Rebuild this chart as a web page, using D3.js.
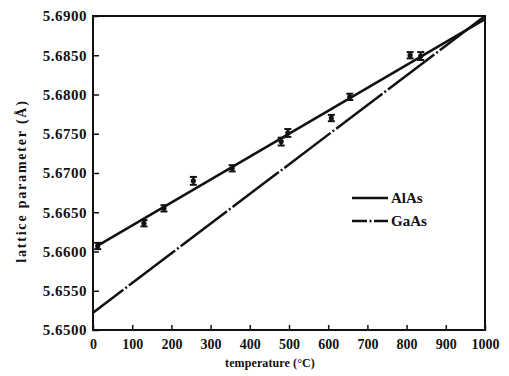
<!DOCTYPE html>
<html>
<head>
<meta charset="utf-8">
<script src="https://cdn.jsdelivr.net/npm/d3@7/dist/d3.min.js"></script>
<style>
  html, body { margin: 0; padding: 0; background: #fff; }
  svg { display: block; }
  .tick text { font-family: "Liberation Serif", "Times New Roman", serif; font-weight: bold; }
</style>
</head>
<body>
<svg id="chart" width="509" height="376"></svg>
<script>
// ---- data ----
const xTicks = [0, 100, 200, 300, 400, 500, 600, 700, 800, 900, 1000];
const yTicks = [5.65, 5.655, 5.66, 5.665, 5.67, 5.675, 5.68, 5.685, 5.69];

const alasTemp  = [12, 130, 181, 256, 355, 480, 497, 608, 655, 809, 836];
const alasValue = [5.6607, 5.6636, 5.6655, 5.6690, 5.6706, 5.6740, 5.6751, 5.6770, 5.6797, 5.6850, 5.6849];
const alasError = [0.0004, 0.0004, 0.0004, 0.0005, 0.0004, 0.0005, 0.0005, 0.0004, 0.0004, 0.0004, 0.0005];

const alasFitTemp  = [12, 1000];
const alasFitValue = [5.66075, 5.6896];
const gaasFitTemp  = [0, 1000];
const gaasFitValue = [5.6522, 5.6900];

const legendLabels = ["AlAs", "GaAs"];

// ---- layout ----
const svg = d3.select("#chart");
const x = d3.scaleLinear().domain([0, 1000]).range([93, 485]);
const y = d3.scaleLinear().domain([5.65, 5.69]).range([330, 16]);

const serif = '"Liberation Serif", "Times New Roman", serif';

// frame
svg.append("rect")
  .attr("x", x(0)).attr("y", y(5.69))
  .attr("width", x(1000) - x(0)).attr("height", y(5.65) - y(5.69))
  .attr("fill", "none").attr("stroke", "#111").attr("stroke-width", 2);

// x axis
const xAxis = svg.append("g")
  .attr("transform", `translate(0,${y(5.65)})`)
  .call(d3.axisBottom(x).tickValues(xTicks).tickSizeInner(-5).tickSizeOuter(0).tickPadding(9).tickFormat(d3.format("d")));
xAxis.select(".domain").remove();
xAxis.selectAll(".tick line").attr("stroke", "#111").attr("stroke-width", 1.5);
xAxis.selectAll(".tick text").attr("font-size", 14).attr("fill", "#111");

// y axis
const yAxis = svg.append("g")
  .attr("transform", `translate(${x(0)},0)`)
  .call(d3.axisLeft(y).tickValues(yTicks).tickSizeInner(-6).tickSizeOuter(0).tickPadding(6).tickFormat(d3.format(".4f")));
yAxis.select(".domain").remove();
yAxis.selectAll(".tick line").attr("stroke", "#111").attr("stroke-width", 1.5);
yAxis.selectAll(".tick text").attr("font-size", 15).attr("fill", "#111").attr("letter-spacing", 0.5);

// axis titles
svg.append("text")
  .attr("x", 270).attr("y", 367)
  .attr("text-anchor", "middle")
  .attr("font-family", serif).attr("font-weight", "bold").attr("font-size", 12)
  .attr("letter-spacing", 0.1)
  .attr("fill", "#111")
  .text("temperature (\u00B0C)");

svg.append("text")
  .attr("transform", "translate(26,181) rotate(-90)")
  .attr("text-anchor", "middle")
  .attr("font-family", serif).attr("font-weight", "bold").attr("font-size", 14)
  .attr("letter-spacing", 1.8)
  .attr("fill", "#111")
  .text("lattice parameter (\u00C5)");

// fit lines
const line = d3.line().x(d => x(d[0])).y(d => y(d[1]));
svg.append("path")
  .attr("d", line(alasFitTemp.map((t, i) => [t, alasFitValue[i]])))
  .attr("fill", "none").attr("stroke", "#111").attr("stroke-width", 2.5);
svg.append("path")
  .attr("d", line(gaasFitTemp.map((t, i) => [t, gaasFitValue[i]])))
  .attr("fill", "none").attr("stroke", "#111").attr("stroke-width", 2.5)
  .attr("stroke-dasharray", "58,2.5,2,2.5")
  .attr("stroke-dashoffset", 20);

// data points with error bars
const pts = alasTemp.map((t, i) => ({t, v: alasValue[i], e: alasError[i]}));
const g = svg.append("g").attr("stroke", "#111").attr("fill", "#111");
pts.forEach(p => {
  const cx = x(p.t), y1 = y(p.v - p.e), y2 = y(p.v + p.e);
  g.append("line").attr("x1", cx).attr("x2", cx).attr("y1", y1).attr("y2", y2).attr("stroke-width", 2);
  g.append("line").attr("x1", cx - 3.5).attr("x2", cx + 3.5).attr("y1", y1).attr("y2", y1).attr("stroke-width", 2);
  g.append("line").attr("x1", cx - 3.5).attr("x2", cx + 3.5).attr("y1", y2).attr("y2", y2).attr("stroke-width", 2);
  g.append("circle").attr("cx", cx).attr("cy", y(p.v)).attr("r", 2.6).attr("stroke", "none");
});

// legend
const legend = svg.append("g");
legendLabels.forEach((lab, i) => {
  const ly = 198 + i * 23;
  legend.append("line")
    .attr("x1", 352).attr("x2", 388).attr("y1", ly).attr("y2", ly)
    .attr("stroke", "#111").attr("stroke-width", 2.3)
    .attr("stroke-dasharray", i === 1 ? "15,2.5,2,2.5,15" : null);
  legend.append("text")
    .attr("x", 391).attr("y", ly + 5)
    .attr("font-family", serif).attr("font-weight", "bold").attr("font-size", 15)
    .attr("fill", "#111")
    .text(lab);
});
</script>
</body>
</html>
